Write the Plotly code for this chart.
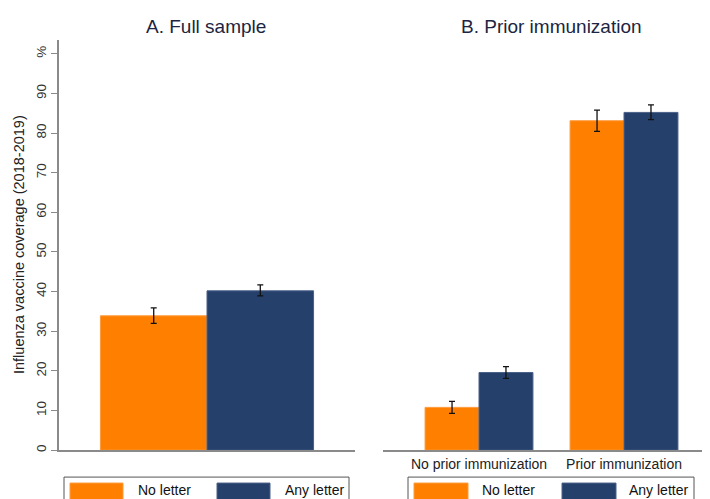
import plotly.graph_objects as go

# ---- data ----
panel_a_categories = ["Full sample"]
panel_a_no_letter = [33.9]
panel_a_no_letter_lo = [32.0]
panel_a_no_letter_hi = [35.9]
panel_a_any_letter = [40.2]
panel_a_any_letter_lo = [38.9]
panel_a_any_letter_hi = [41.7]

panel_b_categories = ["No prior immunization", "Prior immunization"]
panel_b_no_letter = [10.8, 83.1]
panel_b_no_letter_lo = [9.3, 80.4]
panel_b_no_letter_hi = [12.3, 85.8]
panel_b_any_letter = [19.6, 85.2]
panel_b_any_letter_lo = [18.1, 83.4]
panel_b_any_letter_hi = [21.1, 87.1]

tick_values = [0, 10, 20, 30, 40, 50, 60, 70, 80, 90, 100]
tick_labels = ["0", "10", "20", "30", "40", "50", "60", "70", "80", "90", "%"]

series_names = ["No letter", "Any letter"]
ORANGE = "#FF8000"
NAVY = "#26406C"
colors = [ORANGE, NAVY]
edge_colors = ["#FF9A3C", "#4B6189"]

# page has an 8px body margin; the figure covers page pixels 8..710 x 8..499
OFF = 8
W, H = 710 - OFF, 499 - OFF


def px_x(p):
    return (p - OFF) / W


def px_y(p):
    return 1 - (p - OFF) / H


fig = go.Figure()


def add_bars(cats, vals, lo, hi, name, color, edge, width, offset, xa, ya):
    fig.add_trace(go.Bar(
        x=cats, y=vals, name=name, width=width, offset=offset,
        marker=dict(color=color, line=dict(color=edge, width=1)),
        error_y=dict(type="data", symmetric=False,
                     array=[h - v for h, v in zip(hi, vals)],
                     arrayminus=[v - l for v, l in zip(vals, lo)],
                     color="#111111", thickness=1.3, width=3),
        xaxis=xa, yaxis=ya, showlegend=False,
    ))


wa = 0.36
add_bars(panel_a_categories, panel_a_no_letter, panel_a_no_letter_lo, panel_a_no_letter_hi,
         series_names[0], colors[0], edge_colors[0], wa, -wa, "x", "y")
add_bars(panel_a_categories, panel_a_any_letter, panel_a_any_letter_lo, panel_a_any_letter_hi,
         series_names[1], colors[1], edge_colors[1], wa, 0, "x", "y")
wb = 0.372
add_bars(panel_b_categories, panel_b_no_letter, panel_b_no_letter_lo, panel_b_no_letter_hi,
         series_names[0], colors[0], edge_colors[0], wb, -wb, "x2", "y2")
add_bars(panel_b_categories, panel_b_any_letter, panel_b_any_letter_lo, panel_b_any_letter_hi,
         series_names[1], colors[1], edge_colors[1], wb, 0, "x2", "y2")

ydom = [px_y(452), px_y(40)]
yrange = [0, 103.5]
axis_gray = "#8a8a8a"
font_fam = "Liberation Sans, Arial, sans-serif"

fig.update_layout(
    width=W, height=H,
    margin=dict(l=0, r=0, t=0, b=0),
    paper_bgcolor="white", plot_bgcolor="white",
    barmode="overlay",
    font=dict(family=font_fam, color="#222222"),
    showlegend=False,
    xaxis=dict(domain=[px_x(59), px_x(355)], range=[-0.5, 0.5],
               showticklabels=False, ticks="", showgrid=False, zeroline=False,
               showline=True, linecolor=axis_gray, linewidth=1.5, anchor="y"),
    yaxis=dict(domain=ydom, range=yrange, tickvals=tick_values, ticktext=tick_labels,
               tickangle=-90, ticks="outside", ticklen=6, tickcolor=axis_gray,
               tickfont=dict(size=13.5, color="#333333"),
               showgrid=False, zeroline=False, showline=True, linecolor=axis_gray,
               linewidth=1.5, anchor="x"),
    xaxis2=dict(domain=[px_x(383), 1.0], range=[-0.662, 1.593],
                ticks="", showgrid=False, zeroline=False,
                tickfont=dict(size=14, color="#222222"),
                showline=True, linecolor=axis_gray, linewidth=1.5, anchor="y2"),
    yaxis2=dict(domain=ydom, range=yrange, visible=False, anchor="x2"),
)

# Y axis title
fig.add_annotation(text="Influenza vaccine coverage (2018-2019)", xref="paper", yref="paper",
                   x=px_x(19), y=px_y(246), textangle=-90, showarrow=False,
                   font=dict(size=14.5, color="#222222"), xanchor="center", yanchor="middle")

# Panel titles
title_color = "#1c2541"
fig.add_annotation(text="A. Full sample", xref="paper", yref="paper",
                   x=px_x(206), y=px_y(27), showarrow=False,
                   font=dict(size=19, color=title_color), xanchor="center", yanchor="middle")
fig.add_annotation(text="B. Prior immunization", xref="paper", yref="paper",
                   x=px_x(551), y=px_y(27), showarrow=False,
                   font=dict(size=19, color=title_color), xanchor="center", yanchor="middle")

# Legends (frame, swatches, labels)
legend_specs = [
    dict(box=(64, 349), sw=[(70, 123), (217, 270)], tx=[136, 283]),
    dict(box=(408, 694), sw=[(414, 468), (562, 616)], tx=[480, 627]),
]
for spec in legend_specs:
    x0, x1 = spec["box"]
    fig.add_shape(type="rect", xref="paper", yref="paper",
                  x0=px_x(x0), x1=px_x(x1), y0=px_y(505), y1=px_y(479),
                  line=dict(color="#555555", width=1), fillcolor="white", layer="below")
    for i in range(2):
        s0, s1 = spec["sw"][i]
        fig.add_shape(type="rect", xref="paper", yref="paper",
                      x0=px_x(s0), x1=px_x(s1), y0=px_y(502), y1=px_y(485),
                      line=dict(color=edge_colors[i], width=1), fillcolor=colors[i])
        fig.add_annotation(text=series_names[i], xref="paper", yref="paper",
                           x=px_x(spec["tx"][i]), y=px_y(492), showarrow=False,
                           xanchor="left", yanchor="middle",
                           font=dict(size=14, color="#111111"))

fig.write_html("out.html")
